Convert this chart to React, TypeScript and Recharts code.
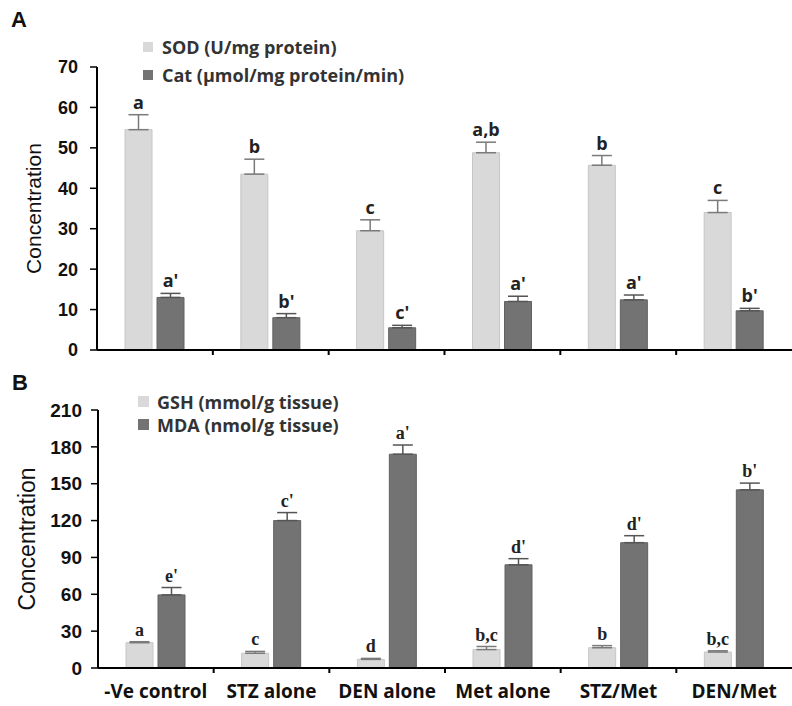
import React from 'react';
import { BarChart, Bar, XAxis, YAxis, ErrorBar, LabelList, Legend } from 'recharts';

const categories = ['-Ve control', 'STZ alone', 'DEN alone', 'Met alone', 'STZ/Met', 'DEN/Met'];

const sodValues = [54.5, 43.5, 29.5, 48.8, 45.7, 34.0];
const sodErrors = [3.7, 3.7, 2.7, 2.6, 2.4, 3.0];
const sodLetters = ['a', 'b', 'c', 'a,b', 'b', 'c'];

const catValues = [13.0, 8.0, 5.5, 12.0, 12.4, 9.7];
const catErrors = [1.0, 1.0, 0.6, 1.3, 1.2, 0.6];
const catLetters = ["a'", "b'", "c'", "a'", "a'", "b'"];

const gshValues = [20.6, 12.0, 7.0, 15.0, 16.5, 13.0];
const gshErrors = [0.8, 1.5, 0.8, 2.5, 1.7, 1.0];
const gshLetters = ['a', 'c', 'd', 'b,c', 'b', 'b,c'];

const mdaValues = [59.5, 120, 174, 84, 102, 145];
const mdaErrors = [6, 6.5, 7.5, 5, 5.7, 5.5];
const mdaLetters = ["e'", "c'", "a'", "d'", "d'", "b'"];

const topTicks = [0, 10, 20, 30, 40, 50, 60, 70];
const bottomTicks = [0, 30, 60, 90, 120, 150, 180, 210];

const topNames = ['SOD (U/mg protein)', 'Cat (\u00b5mol/mg protein/min)'];
const bottomNames = ['GSH (mmol/g tissue)', 'MDA (nmol/g tissue)'];

const LIGHT = '#d9d9d9';
const LIGHT_STROKE = '#c6c6c6';
const DARK = '#737373';
const DARK_STROKE = '#626262';

const topData = categories.map((name, i) => ({
  name,
  pos: i + 0.5,
  sod: sodValues[i],
  sodErr: [0, sodErrors[i]],
  cat: catValues[i],
  catErr: [0, catErrors[i]],
}));

const bottomData = categories.map((name, i) => ({
  name,
  pos: i + 0.5,
  gsh: gshValues[i],
  gshErr: [0, gshErrors[i]],
  mda: mdaValues[i],
  mdaErr: [0, mdaErrors[i]],
}));

const axisTicks: number[] = [];
categories.forEach((_, i) => {
  axisTicks.push(i);
  axisTicks.push(i + 0.5);
});
axisTicks.push(categories.length);

const SANS = "'Liberation Sans', Arial, sans-serif";
const OPEN = "'Open Sans', 'Liberation Sans', sans-serif";
const SERIF = "'Liberation Serif', 'DejaVu Serif', serif";

const makeXTick = (showLabels: boolean) => (props: any) => {
  const { x, y, payload } = props;
  const v = payload.value;
  if (Number.isInteger(v)) {
    if (v <= 0 || v >= categories.length) return <g />;
    return <line x1={x} x2={x} y1={y} y2={y + 5} stroke="#000" strokeWidth={2} />;
  }
  if (!showLabels) return <g />;
  const label = categories[Math.floor(v)];
  return (
    <text x={x} y={y + 30} textAnchor="middle" fontFamily={OPEN} fontWeight={700} fontSize={19} fill="#111">
      {label}
    </text>
  );
};

const sigLabel = (values: number[], errors: number[], letters: string[], family: string) => (props: any) => {
  const { index } = props;
  const vb = props.viewBox || props;
  const x = vb.x;
  const y = vb.y;
  const w = vb.width;
  const h = vb.height;
  if (index == null || !values[index]) return null;
  const pxPerUnit = h / values[index];
  const top = y - errors[index] * pxPerUnit;
  return (
    <text x={x + w / 2} y={top - 6} textAnchor="middle" fontSize={18} fontWeight={700} fontFamily={family} fill="#222">
      {letters[index]}
    </text>
  );
};

const makeLegend = (names: string[], rowHeight: number, box: number, fontSize: number) => (props: any) => {
  const payload = [...(props.payload || [])].sort(
    (a: any, b: any) => names.indexOf(a.value) - names.indexOf(b.value)
  );
  return (
    <div style={{ fontFamily: OPEN, fontWeight: 700, fontSize, color: '#333' }}>
      {payload.map((p: any) => (
        <div key={p.value} style={{ display: 'flex', alignItems: 'center', height: rowHeight, whiteSpace: 'nowrap' }}>
          <span style={{ display: 'inline-block', width: box, height: box, background: p.color, marginRight: 19 - box }} />
          <span>{p.value}</span>
        </div>
      ))}
    </div>
  );
};

const yLabel = (offsetX: number, size: number) => (props: any) => {
  const vb = props.viewBox;
  const cx = vb.x + offsetX;
  const cy = vb.y + vb.height / 2;
  return (
    <text x={cx} y={cy} transform={`rotate(-90, ${cx}, ${cy})`} textAnchor="middle" dominantBaseline="central" fontFamily={SANS} fontSize={size} fill="#111">
      Concentration
    </text>
  );
};

export default function App() {
  return (
    <div style={{ position: 'absolute', left: 0, top: 0, width: 792, height: 706, background: '#fff', overflow: 'hidden' }}>
      <div style={{ position: 'absolute', left: 0, top: 0 }}>
        <BarChart width={792} height={372} data={topData} margin={{ top: 67, right: 0, bottom: 0, left: 0 }} barGap={5}>
          <XAxis
            type="number"
            dataKey="pos"
            domain={[0, categories.length]}
            ticks={axisTicks}
            interval={0}
            allowDecimals
            height={22}
            tickLine={false}
            tickSize={0}
            tickMargin={0}
            axisLine={{ stroke: '#000', strokeWidth: 2 }}
            tick={makeXTick(false)}
          />
          <YAxis
            type="number"
            domain={[0, 70]}
            ticks={topTicks}
            interval={0}
            width={97}
            tickSize={7}
            tickMargin={12}
            axisLine={{ stroke: '#000', strokeWidth: 2 }}
            tickLine={{ stroke: '#000', strokeWidth: 1.5 }}
            tick={{ fill: '#111', fontSize: 18, fontWeight: 700, fontFamily: SANS }}
            label={{ content: yLabel(33, 21) } as any}
          />
          <Legend
            layout="vertical"
            align="center"
            verticalAlign="middle"
            wrapperStyle={{ left: 143, top: 33, width: 330 }}
            content={makeLegend(topNames, 28, 10, 18)}
          />
          <Bar dataKey="sod" name={topNames[0]} fill={LIGHT} stroke={LIGHT_STROKE} barSize={27} isAnimationActive={false}>
            <ErrorBar dataKey="sodErr" width={10} stroke="#7a7a7a" strokeWidth={1.5} direction="y" />
            <LabelList dataKey="name" content={sigLabel(sodValues, sodErrors, sodLetters, OPEN)} />
          </Bar>
          <Bar dataKey="cat" name={topNames[1]} fill={DARK} stroke={DARK_STROKE} barSize={27} isAnimationActive={false}>
            <ErrorBar dataKey="catErr" width={10} stroke="#555" strokeWidth={1.5} direction="y" />
            <LabelList dataKey="name" content={sigLabel(catValues, catErrors, catLetters, OPEN)} />
          </Bar>
        </BarChart>
      </div>
      <div style={{ position: 'absolute', left: 0, top: 360 }}>
        <BarChart width={792} height={346} data={bottomData} margin={{ top: 50, right: 0, bottom: 0, left: 0 }} barGap={5}>
          <XAxis
            type="number"
            dataKey="pos"
            domain={[0, categories.length]}
            ticks={axisTicks}
            interval={0}
            allowDecimals
            height={38}
            tickLine={false}
            tickSize={0}
            tickMargin={0}
            axisLine={{ stroke: '#000', strokeWidth: 2 }}
            tick={makeXTick(true)}
          />
          <YAxis
            type="number"
            domain={[0, 210]}
            ticks={bottomTicks}
            interval={0}
            width={98}
            tickSize={7}
            tickMargin={9}
            axisLine={{ stroke: '#000', strokeWidth: 2 }}
            tickLine={{ stroke: '#000', strokeWidth: 1.5 }}
            tick={{ fill: '#111', fontSize: 19, fontWeight: 700, fontFamily: SANS }}
            label={{ content: yLabel(27, 23) } as any}
          />
          <Legend
            layout="vertical"
            align="center"
            verticalAlign="middle"
            wrapperStyle={{ left: 138, top: 30, width: 330 }}
            content={makeLegend(bottomNames, 23, 11, 18)}
          />
          <Bar dataKey="gsh" name={bottomNames[0]} fill={LIGHT} stroke={LIGHT_STROKE} barSize={27} isAnimationActive={false}>
            <ErrorBar dataKey="gshErr" width={10} stroke="#7a7a7a" strokeWidth={1.5} direction="y" />
            <LabelList dataKey="name" content={sigLabel(gshValues, gshErrors, gshLetters, SERIF)} />
          </Bar>
          <Bar dataKey="mda" name={bottomNames[1]} fill={DARK} stroke={DARK_STROKE} barSize={27} isAnimationActive={false}>
            <ErrorBar dataKey="mdaErr" width={10} stroke="#555" strokeWidth={1.5} direction="y" />
            <LabelList dataKey="name" content={sigLabel(mdaValues, mdaErrors, mdaLetters, SERIF)} />
          </Bar>
        </BarChart>
      </div>
      <div style={{ position: 'absolute', left: 11, top: 9, fontFamily: SANS, fontWeight: 700, fontSize: 22, lineHeight: 1, color: '#111' }}>A</div>
      <div style={{ position: 'absolute', left: 12, top: 372, fontFamily: SANS, fontWeight: 700, fontSize: 22, lineHeight: 1, color: '#111' }}>B</div>
    </div>
  );
}
